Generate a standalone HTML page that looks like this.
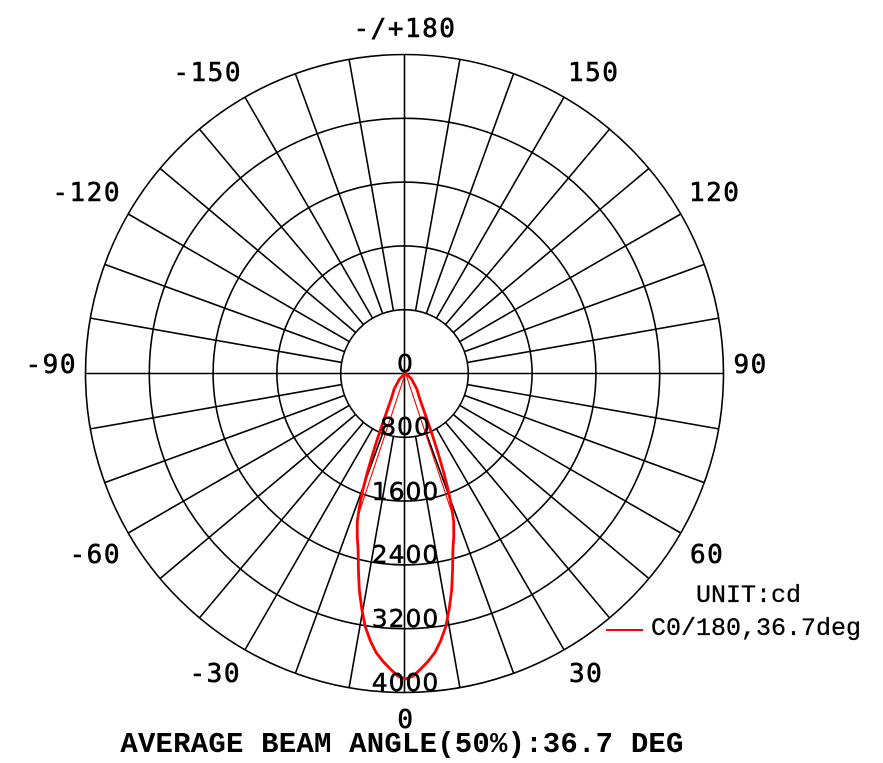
<!DOCTYPE html>
<html>
<head>
<meta charset="utf-8">
<style>
  html, body { margin: 0; padding: 0; background: #fff; }
  svg { display: block; }
  .ang { font-family: "DejaVu Sans Mono", "Liberation Mono", monospace; font-size: 26px; letter-spacing: 1.5px; fill: #000; stroke: #000; stroke-width: 0.6px; }
  .ring { font-family: "DejaVu Sans", "Liberation Sans", sans-serif; font-size: 25px; letter-spacing: 1px; fill: #000; stroke: #000; stroke-width: 0.5px; }
  .leg { font-family: "Liberation Mono", monospace; font-size: 25px; fill: #000; stroke: #000; stroke-width: 0.3px; }
  .title { font-family: "Liberation Mono", monospace; font-size: 29px; font-weight: bold; letter-spacing: 0.2px; fill: #000; }
</style>
</head>
<body>
<svg width="883" height="763" viewBox="0 0 883 763" xmlns="http://www.w3.org/2000/svg">
  <rect x="0" y="0" width="883" height="763" fill="#fff"/>
  <g transform="translate(404.5,373.5)" stroke="#000" stroke-width="1.6" fill="none">
    <circle r="63.8"/>
    <circle r="127.6"/>
    <circle r="191.4"/>
    <circle r="255.2"/>
    <circle r="319"/>
    <line x1="-319" y1="0" x2="319" y2="0"/>
    <line x1="0" y1="-319" x2="0" y2="319"/>
    <g>
      <line x1="0" y1="63.8" x2="0" y2="319" transform="rotate(10)"/>
      <line x1="0" y1="63.8" x2="0" y2="319" transform="rotate(20)"/>
      <line x1="0" y1="63.8" x2="0" y2="319" transform="rotate(30)"/>
      <line x1="0" y1="63.8" x2="0" y2="319" transform="rotate(40)"/>
      <line x1="0" y1="63.8" x2="0" y2="319" transform="rotate(50)"/>
      <line x1="0" y1="63.8" x2="0" y2="319" transform="rotate(60)"/>
      <line x1="0" y1="63.8" x2="0" y2="319" transform="rotate(70)"/>
      <line x1="0" y1="63.8" x2="0" y2="319" transform="rotate(80)"/>
      <line x1="0" y1="63.8" x2="0" y2="319" transform="rotate(100)"/>
      <line x1="0" y1="63.8" x2="0" y2="319" transform="rotate(110)"/>
      <line x1="0" y1="63.8" x2="0" y2="319" transform="rotate(120)"/>
      <line x1="0" y1="63.8" x2="0" y2="319" transform="rotate(130)"/>
      <line x1="0" y1="63.8" x2="0" y2="319" transform="rotate(140)"/>
      <line x1="0" y1="63.8" x2="0" y2="319" transform="rotate(150)"/>
      <line x1="0" y1="63.8" x2="0" y2="319" transform="rotate(160)"/>
      <line x1="0" y1="63.8" x2="0" y2="319" transform="rotate(170)"/>
      <line x1="0" y1="63.8" x2="0" y2="319" transform="rotate(190)"/>
      <line x1="0" y1="63.8" x2="0" y2="319" transform="rotate(200)"/>
      <line x1="0" y1="63.8" x2="0" y2="319" transform="rotate(210)"/>
      <line x1="0" y1="63.8" x2="0" y2="319" transform="rotate(220)"/>
      <line x1="0" y1="63.8" x2="0" y2="319" transform="rotate(230)"/>
      <line x1="0" y1="63.8" x2="0" y2="319" transform="rotate(240)"/>
      <line x1="0" y1="63.8" x2="0" y2="319" transform="rotate(250)"/>
      <line x1="0" y1="63.8" x2="0" y2="319" transform="rotate(260)"/>
      <line x1="0" y1="63.8" x2="0" y2="319" transform="rotate(280)"/>
      <line x1="0" y1="63.8" x2="0" y2="319" transform="rotate(290)"/>
      <line x1="0" y1="63.8" x2="0" y2="319" transform="rotate(300)"/>
      <line x1="0" y1="63.8" x2="0" y2="319" transform="rotate(310)"/>
      <line x1="0" y1="63.8" x2="0" y2="319" transform="rotate(320)"/>
      <line x1="0" y1="63.8" x2="0" y2="319" transform="rotate(330)"/>
      <line x1="0" y1="63.8" x2="0" y2="319" transform="rotate(340)"/>
      <line x1="0" y1="63.8" x2="0" y2="319" transform="rotate(350)"/>
    </g>
  </g>

  <!-- beam angle lines -->
  <line x1="405.5" y1="373" x2="357.6" y2="517.3" stroke="#ff0000" stroke-width="1.1"/>
  <line x1="405.5" y1="373" x2="453.4" y2="517.3" stroke="#ff0000" stroke-width="1.1"/>

  <!-- C0/180 curve -->
  <polyline fill="none" stroke="#ff0000" stroke-width="2.8" stroke-linejoin="round"
    points="405.5,373 399.5,379 394,389.4 392,396.4 387.1,410.7 381.1,427.8 377,440.2 372.5,454.6 367.2,472.9 362.7,490.5 359.3,507.3 357.3,521.4 357.2,536 358.1,549.8 358.4,569.4 359.3,590.1 361.8,609 365.3,626.8 370.3,640.7 376.1,652.5 382.8,661.1 390,668.6 397.6,675.9 405.5,679 413.4,675.9 421,668.6 428.2,661.1 434.9,652.5 440.7,640.7 445.7,626.8 449.2,609 451.7,590.1 452.6,569.4 452.9,549.8 453.8,536 453.7,521.4 451.7,507.3 448.3,490.5 443.8,472.9 438.5,454.6 434,440.2 429.9,427.8 423.9,410.7 419,396.4 417,389.4 411.5,379 405.5,373"/>

  <!-- ring labels -->
  <text class="ring" x="405.5" y="372" text-anchor="middle">0</text>
  <text class="ring" x="405.5" y="435" text-anchor="middle">800</text>
  <text class="ring" x="405.5" y="500" text-anchor="middle">1600</text>
  <text class="ring" x="405.5" y="563" text-anchor="middle">2400</text>
  <text class="ring" x="405.5" y="627" text-anchor="middle">3200</text>
  <text class="ring" x="405.5" y="691" text-anchor="middle">4000</text>

  <!-- angle labels -->
  <text class="ang" x="405" y="37" text-anchor="middle">-/+180</text>
  <text class="ang" x="242" y="81" text-anchor="end">-150</text>
  <text class="ang" x="568" y="81">150</text>
  <text class="ang" x="121" y="201" text-anchor="end">-120</text>
  <text class="ang" x="689" y="201">120</text>
  <text class="ang" x="77" y="373" text-anchor="end">-90</text>
  <text class="ang" x="733.5" y="373">90</text>
  <text class="ang" x="121" y="563" text-anchor="end">-60</text>
  <text class="ang" x="690" y="563">60</text>
  <text class="ang" x="241" y="682" text-anchor="end">-30</text>
  <text class="ang" x="569" y="682">30</text>
  <text class="ang" x="406" y="728" text-anchor="middle">0</text>

  <!-- legend -->
  <text class="leg" x="696" y="602">UNIT:cd</text>
  <line x1="606" y1="630" x2="643" y2="630" stroke="#ff0000" stroke-width="2"/>
  <text class="leg" x="651" y="635">C0/180,36.7deg</text>

  <!-- bottom title -->
  <text class="title" x="402" y="752" text-anchor="middle">AVERAGE BEAM ANGLE(50%):36.7 DEG</text>
</svg>
</body>
</html>
